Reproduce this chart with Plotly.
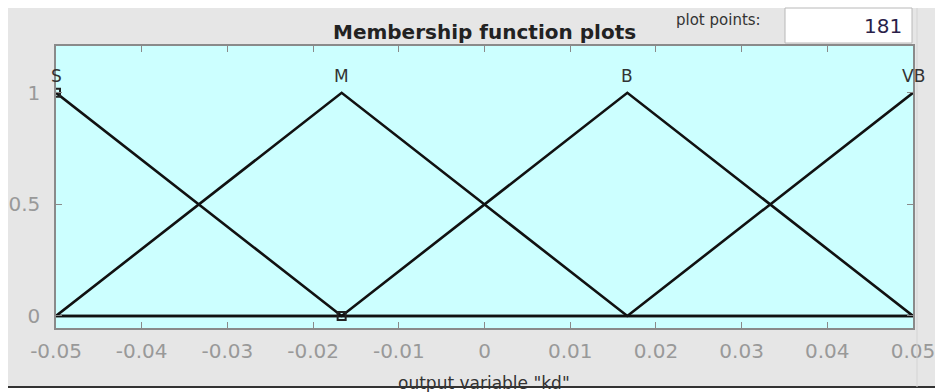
import plotly.graph_objects as go

# Output variable "kd": four triangular membership functions over [-0.05, 0.05]
mf_names = ["S", "M", "B", "VB"]
mf_x = [
    [-0.05, -0.016667, 0.05],
    [-0.05, -0.016667, 0.016667, 0.05],
    [-0.05, -0.016667, 0.016667, 0.05],
    [-0.05, 0.016667, 0.05],
]
mf_y = [
    [1, 0, 0],
    [0, 1, 0, 0],
    [0, 0, 1, 0],
    [0, 0, 1],
]
label_x = [-0.05, -0.016667, 0.016667, 0.05]
handle_x = [-0.05, -0.016667]
handle_y = [1, 0]
x_ticks = [-0.05, -0.04, -0.03, -0.02, -0.01, 0, 0.01, 0.02, 0.03, 0.04, 0.05]
x_tick_text = ["-0.05", "-0.04", "-0.03", "-0.02", "-0.01", "0", "0.01", "0.02", "0.03", "0.04", "0.05"]
y_ticks = [0, 0.5, 1]
y_tick_text = ["0", "0.5", "1"]
plot_points = "181"

W, H = 935, 392
L, R, T, B = 56, 913, 46, 328
FONT = "DejaVu Sans, Verdana, Arial"


def px(x):
    return (x - L) / (R - L)


def py(y):
    return (B - y) / (B - T)


fig = go.Figure()
for xs, ys in zip(mf_x, mf_y):
    fig.add_trace(go.Scatter(x=xs, y=ys, mode="lines",
                             line=dict(color="#111111", width=2.6),
                             hoverinfo="skip", showlegend=False))
fig.add_trace(go.Scatter(x=handle_x, y=handle_y, mode="markers",
                         marker=dict(symbol="square-open", size=8,
                                     color="#222222", line=dict(width=2)),
                         hoverinfo="skip", showlegend=False))

for name, xv in zip(mf_names, label_x):
    fig.add_annotation(x=xv, y=1.075, text=name, showarrow=False,
                       font=dict(family=FONT, size=17, color="#333333"),
                       xanchor="center", yanchor="middle")

white = dict(color="#ffffff", width=0)
shapes = [
    # white frame around the window panel
    dict(type="rect", xref="paper", yref="paper", x0=px(0), x1=px(935),
         y0=py(8), y1=py(0), fillcolor="#ffffff", line=white, layer="below"),
    dict(type="rect", xref="paper", yref="paper", x0=px(0), x1=px(8),
         y0=py(392), y1=py(0), fillcolor="#ffffff", line=white, layer="below"),
    dict(type="rect", xref="paper", yref="paper", x0=px(0), x1=px(935),
         y0=py(392), y1=py(387), fillcolor="#ffffff", line=white, layer="below"),
    # bottom separator
    dict(type="line", xref="paper", yref="paper", x0=px(8), x1=px(935),
         y0=py(387), y1=py(387), line=dict(color="#333333", width=2)),
    # plot points edit box
    dict(type="rect", xref="paper", yref="paper", x0=px(785), x1=px(912),
         y0=py(43), y1=py(8), fillcolor="#ffffff", line=dict(color="#b8b8b8", width=1)),
    dict(type="line", xref="paper", yref="paper", x0=px(917), x1=px(917),
         y0=py(387), y1=py(8), line=dict(color="#d4d4d4", width=1)),
]
fig.update_layout(shapes=shapes)

fig.add_annotation(xref="paper", yref="paper", x=px(484), y=py(32),
                   text="<b>Membership function plots</b>", showarrow=False,
                   font=dict(family=FONT, size=20, color="#222222"),
                   xanchor="center", yanchor="middle")
fig.add_annotation(xref="paper", yref="paper", x=px(718), y=py(20),
                   text="plot points:", showarrow=False,
                   font=dict(family=FONT, size=15, color="#333333"),
                   xanchor="center", yanchor="middle")
fig.add_annotation(xref="paper", yref="paper", x=px(904), y=py(26),
                   text=plot_points, showarrow=False,
                   font=dict(family=FONT, size=20, color="#2a1f4a"),
                   xanchor="right", yanchor="middle")
fig.add_annotation(xref="paper", yref="paper", x=px(484), y=py(383),
                   text='output variable "kd"', showarrow=False,
                   font=dict(family=FONT, size=17, color="#333333"),
                   xanchor="center", yanchor="middle")

axis_font = dict(family=FONT, size=20, color="#999999")
fig.update_xaxes(range=[-0.05, 0.05], tickvals=x_ticks, ticktext=x_tick_text,
                 ticks="inside", ticklen=6, tickcolor="#8a8a8a", tickwidth=1,
                 showline=True, linecolor="#8a8a8a", linewidth=1.5, mirror="ticks",
                 showgrid=False, zeroline=False, tickfont=axis_font, ticklabelstandoff=4,
                 automargin=False, ticklabeloverflow="allow")
fig.update_yaxes(range=[-0.054, 1.21], tickvals=y_ticks, ticktext=y_tick_text,
                 ticks="inside", ticklen=6, tickcolor="#8a8a8a", tickwidth=1,
                 showline=True, linecolor="#8a8a8a", linewidth=1.5, mirror="ticks",
                 showgrid=False, zeroline=False, tickfont=axis_font, ticklabelstandoff=10,
                 automargin=False, ticklabeloverflow="allow")

fig.update_layout(width=W, height=H,
                  margin=dict(l=L, r=W - R, t=T, b=H - B),
                  paper_bgcolor="#e6e6e6", plot_bgcolor="#ccffff",
                  showlegend=False)

fig.write_html("out.html")
